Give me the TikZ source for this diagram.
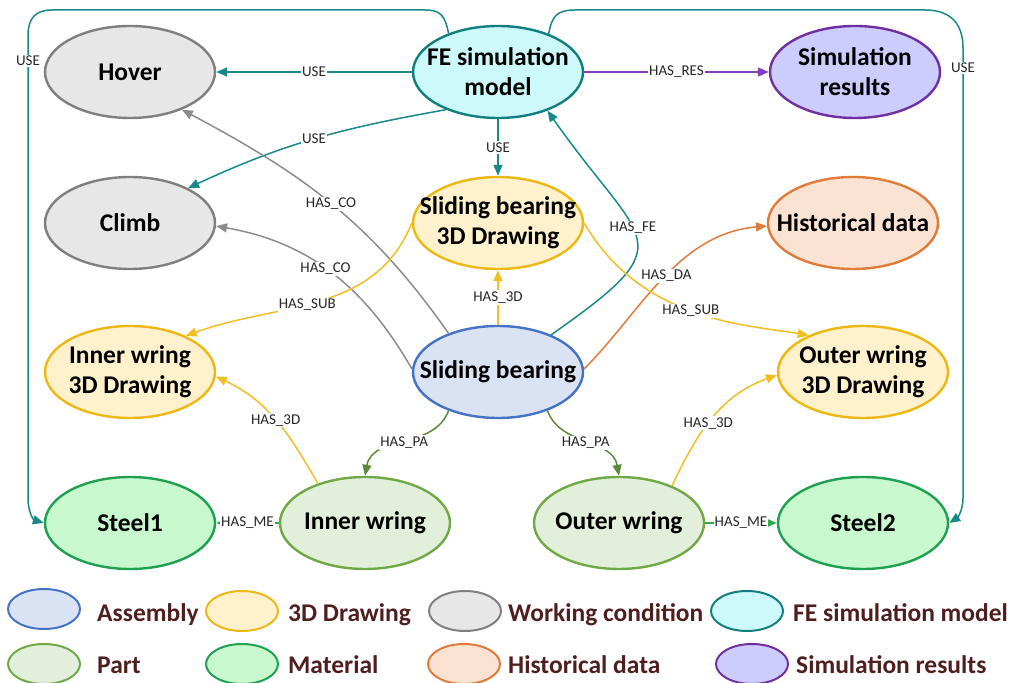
\documentclass[tikz,border=0pt]{standalone}
\usepackage{fontspec}
\setmainfont{Carlito}
\usetikzlibrary{arrows.meta,shapes.geometric}

% node colours (border / fill)
\definecolor{asmB}{HTML}{4472C4}\definecolor{asmF}{HTML}{DAE3F3}
\definecolor{drwB}{HTML}{EDB814}\definecolor{drwF}{HTML}{FFF1CC}
\definecolor{wcB}{HTML}{7F7F7F}\definecolor{wcF}{HTML}{E7E7E7}
\definecolor{femB}{HTML}{127E7E}\definecolor{femF}{HTML}{CCFAFA}
\definecolor{partB}{HTML}{70A845}\definecolor{partF}{HTML}{E2EFDA}
\definecolor{matB}{HTML}{1EA050}\definecolor{matF}{HTML}{C8F8CE}
\definecolor{histB}{HTML}{E07B39}\definecolor{histF}{HTML}{FBE3D3}
\definecolor{resB}{HTML}{7030A0}\definecolor{resF}{HTML}{CCCCFF}
% connector colours
\definecolor{eTeal}{HTML}{1A8888}
\definecolor{eGray}{HTML}{8C8C8C}
\definecolor{eYel}{HTML}{F2BE22}
\definecolor{eOra}{HTML}{E07B39}
\definecolor{ePur}{HTML}{7F3FBF}
\definecolor{eOli}{HTML}{5B8A3A}
\definecolor{eGrn}{HTML}{2DAA4A}
\definecolor{labtext}{HTML}{262626}
\definecolor{legtext}{HTML}{4F1F1F}

\begin{document}
\begin{tikzpicture}[x=1pt,y=1pt,
  ent/.style={ellipse, draw, line width=2.4pt, minimum width=170pt,
    minimum height=92pt, inner sep=0pt,
    label={[enttext]center:#1}},
  enttext/.style={align=center, inner sep=0pt, text=black,
    font=\fontsize{25.5}{30}\selectfont\bfseries},
  asm/.style={draw=asmB, fill=asmF},
  drw/.style={draw=drwB, fill=drwF},
  wc/.style={draw=wcB, fill=wcF},
  fem/.style={draw=femB, fill=femF},
  part/.style={draw=partB, fill=partF},
  mat/.style={draw=matB, fill=matF},
  hist/.style={draw=histB, fill=histF},
  res/.style={draw=resB, fill=resF},
  lbl/.style={fill=white, inner sep=1.2pt, text=labtext,
    font=\fontsize{15}{17}\selectfont},
  rel/.style={line width=1.5pt, -{Triangle[length=11pt,width=9pt]}},
  lgd/.style={ellipse, draw, line width=2pt, minimum width=72pt,
    minimum height=40pt, inner sep=0pt},
  lgdtext/.style={anchor=base west, text=legtext, inner sep=0pt,
    font=\fontsize{25.5}{30}\selectfont\bfseries},
]
\useasboundingbox (0,0) rectangle (1029,683);

% ---- entities ----
\node[ent={Hover},wc]                        (hover)  at (130,611) {};
\node[ent={FE simulation\\model},fem]        (fe)     at (498,611) {};
\node[ent={Simulation\\results},res]         (simres) at (855,611) {};
\node[ent={Climb},wc]                        (climb)  at (130,460) {};
\node[ent={Sliding bearing\\3D Drawing},drw] (sb3d)   at (498,460) {};
\node[ent={Historical data},hist]            (hist)   at (853,460) {};
\node[ent={Inner wring\\3D Drawing},drw]     (iw3d)   at (130,311) {};
\node[ent={Sliding bearing},asm]             (sb)     at (498,311) {};
\node[ent={Outer wring\\3D Drawing},drw]     (ow3d)   at (863,311) {};
\node[ent={Steel1},mat]                      (steel1) at (130,160) {};
\node[ent={Inner wring},part]                (iw)     at (365,160) {};
\node[ent={Outer wring},part]                (ow)     at (619,160) {};
\node[ent={Steel2},mat]                      (steel2) at (863,160) {};

% ---- relations from the FE simulation model ----
\draw[rel,eTeal] (fe.west) -- node[lbl]{USE} (hover.east);
\draw[rel,ePur] (fe.east) -- node[lbl]{HAS\_RES} (simres.west);
\draw[rel,eTeal] (fe.south) -- node[lbl]{USE} (sb3d.north);
\draw[rel,eTeal] (fe.216) to[out=190,in=25] node[lbl]{USE} (climb.31);
\draw[rel,eTeal] (fe.142) .. controls (445,668) and (440,673) .. (425,673)
  -- (52,673) .. controls (36,673) and (28,665) .. (28,648)
  -- (28,622) node[lbl]{USE} -- (28,185)
  .. controls (28,170) and (34,163) .. (steel1.west);
\draw[rel,eTeal] (fe.37) .. controls (552,668) and (558,673) .. (575,673)
  -- (925,673) .. controls (950,673) and (963,660) .. (963,635)
  -- (963,615) node[lbl]{USE} -- (963,185)
  .. controls (963,172) and (957,165) .. (steel2.east);

% ---- relations from the sliding bearing ----
\draw[rel,eGray] (sb.142) to[out=125,in=-28] node[lbl,pos=.5]{HAS\_CO} (hover.-36);
\draw[rel,eGray] (sb.178) to[out=120,in=-10] node[lbl,pos=.53]{HAS\_CO} (climb.-2);
\draw[rel,eYel] (sb.north) -- node[lbl]{HAS\_3D} (sb3d.south);
\draw[rel,eTeal] (sb.35) to[out=35,in=-55,looseness=1.9] node[lbl,pos=.56]{HAS\_FE} (fe.-38);
\draw[rel,eOra] (sb.2) .. controls +(45:80) and +(185:90) .. node[lbl,pos=.52]{HAS\_DA} (hist.182);
\draw[rel,eOli] (sb.218) to[out=-110,in=80] node[lbl]{HAS\_PA} (iw.north);
\draw[rel,eOli] (sb.-38) to[out=-70,in=100] node[lbl]{HAS\_PA} (ow.north);

% ---- drawing hierarchy ----
\draw[rel,eYel] (sb3d.west) to[out=248,in=20] node[lbl,pos=.55]{HAS\_SUB} (iw3d.33);
\draw[rel,eYel] (sb3d.east) .. controls +(-60:115) and +(170:60) .. node[lbl,pos=.48]{HAS\_SUB} (ow3d.146);
\draw[rel,eYel] (iw.140) to[out=120,in=-25] node[lbl]{HAS\_3D} (iw3d.-3);
\draw[rel,eYel] (ow.35) to[out=65,in=-160] node[lbl,pos=.45]{HAS\_3D} (ow3d.182);

% ---- materials ----
\draw[rel,eGrn] (iw.west) -- node[lbl]{HAS\_ME} (steel1.east);
\draw[rel,eGrn] (ow.east) -- node[lbl]{HAS\_ME} (steel2.west);

% ---- legend ----
\node[lgd,asm]  (kasm)  at (44,74) {};
\node[lgdtext]  (tasm)  at (97,61) {Assembly};
\node[lgd,drw]  (kdrw)  at (242,72) {};
\node[lgdtext]  (tdrw)  at (288,61) {3D Drawing};
\node[lgd,wc]   (kwc)   at (465,72) {};
\node[lgdtext]  (twc)   at (508,61) {Working condition};
\node[lgd,fem]  (kfem)  at (747,72) {};
\node[lgdtext]  (tfem)  at (793,61) {FE simulation model};
\node[lgd,part] (kpart) at (44,19) {};
\node[lgdtext]  (tpart) at (97,9) {Part};
\node[lgd,mat]  (kmat)  at (242,19) {};
\node[lgdtext]  (tmat)  at (288,9) {Material};
\node[lgd,hist] (khist) at (464,19) {};
\node[lgdtext]  (thist) at (508,9) {Historical data};
\node[lgd,res]  (kres)  at (752,19) {};
\node[lgdtext]  (tres)  at (796,9) {Simulation results};
\end{tikzpicture}
\end{document}
